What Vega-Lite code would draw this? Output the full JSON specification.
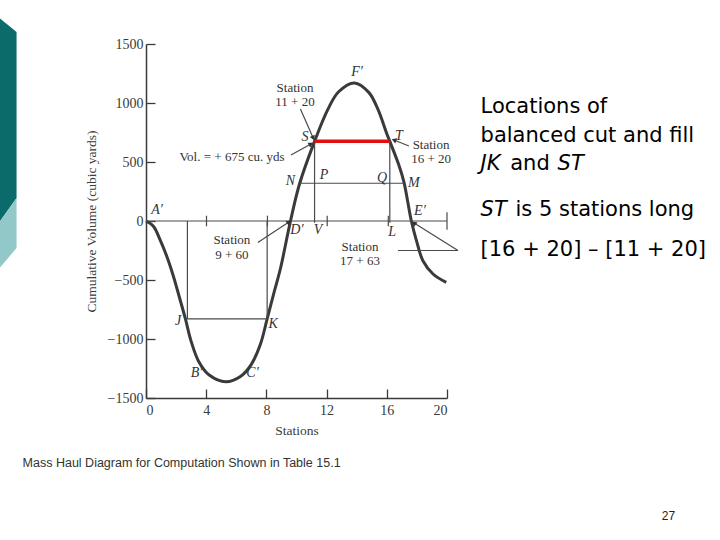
{
  "$schema": "https://vega.github.io/schema/vega-lite/v6.json",
  "width": 301,
  "height": 354,
  "autosize": {"type": "none"},
  "padding": {"left": 146, "top": 44, "right": 273, "bottom": 142},
  "background": "white",
  "config": {
    "view": {"stroke": null},
    "axis": {
      "grid": false,
      "domainColor": "#3a3a3a",
      "domainWidth": 1.5,
      "tickColor": "#3a3a3a",
      "tickWidth": 1.3,
      "tickSize": -9,
      "labelFont": "Liberation Serif",
      "labelFontSize": 14,
      "labelColor": "#3a3a3a",
      "titleFont": "Liberation Serif",
      "titleFontSize": 13.5,
      "titleFontWeight": "normal",
      "titleColor": "#3a3a3a"
    }
  },
  "datasets": {
    "curve": [
      {"x": 0, "y": 0}, {"x": 0.49, "y": -44}, {"x": 0.93, "y": -157}, {"x": 1.38, "y": -299},
      {"x": 1.82, "y": -468}, {"x": 2.26, "y": -665}, {"x": 2.62, "y": -830}, {"x": 3.0, "y": -1020},
      {"x": 3.5, "y": -1190}, {"x": 4.2, "y": -1305}, {"x": 5.3, "y": -1362}, {"x": 6.3, "y": -1315},
      {"x": 7.0, "y": -1215}, {"x": 7.6, "y": -1045}, {"x": 8.05, "y": -830}, {"x": 8.5, "y": -610},
      {"x": 8.95, "y": -394}, {"x": 9.6, "y": 0}, {"x": 10.2, "y": 314}, {"x": 11.2, "y": 675},
      {"x": 12.1, "y": 950}, {"x": 12.8, "y": 1095}, {"x": 13.85, "y": 1170}, {"x": 14.8, "y": 1090},
      {"x": 15.4, "y": 950}, {"x": 16.0, "y": 740}, {"x": 16.2, "y": 675}, {"x": 16.8, "y": 475},
      {"x": 17.14, "y": 330}, {"x": 17.63, "y": 0}, {"x": 17.98, "y": -170}, {"x": 18.4, "y": -337},
      {"x": 19.07, "y": -449}, {"x": 19.95, "y": -520}
    ],
    "segments": [
      {"x": 0, "y": 0, "x2": 20, "y2": 0},
      {"x": 2.75, "y": -830, "x2": 2.75, "y2": 0},
      {"x": 8.05, "y": -830, "x2": 8.05, "y2": 0},
      {"x": 2.62, "y": -830, "x2": 8.05, "y2": -830},
      {"x": 10.2, "y": 320, "x2": 17.14, "y2": 320},
      {"x": 11.2, "y": 675, "x2": 11.2, "y2": -15},
      {"x": 16.2, "y": 675, "x2": 16.2, "y2": -15},
      {"x": 4.02, "y": -45, "x2": 4.02, "y2": 45},
      {"x": 8.07, "y": -45, "x2": 8.07, "y2": 45},
      {"x": 12.04, "y": -45, "x2": 12.04, "y2": 45},
      {"x": 16.1, "y": -45, "x2": 16.1, "y2": 45},
      {"x": 20, "y": -75, "x2": 20, "y2": 75},
      {"x": 7.43, "y": -182, "x2": 9.5, "y2": -8},
      {"x": 10.26, "y": 949, "x2": 11.11, "y2": 703},
      {"x": 9.63, "y": 560, "x2": 10.96, "y2": 653},
      {"x": 17.47, "y": 636, "x2": 16.48, "y2": 686},
      {"x": 16.74, "y": -250, "x2": 20.73, "y2": -250},
      {"x": 20.73, "y": -250, "x2": 17.81, "y2": -17}
    ],
    "balance": [{"x": 11.2, "y": 675, "x2": 16.2, "y2": 675}],
    "stationText": [
      {"x": 9.9, "y": 1127, "label": "Station"},
      {"x": 9.9, "y": 1008, "label": "11 + 20"},
      {"x": 5.71, "y": 542, "label": "Vol. = + 675 cu. yds"},
      {"x": 18.94, "y": 644, "label": "Station"},
      {"x": 18.94, "y": 525, "label": "16 + 20"},
      {"x": 5.71, "y": -165, "label": "Station"},
      {"x": 5.71, "y": -292, "label": "9 + 60"},
      {"x": 14.22, "y": -220, "label": "Station"},
      {"x": 14.22, "y": -339, "label": "17 + 63"}
    ],
    "letters": [
      {"x": 0.73, "y": 93, "label": "A′"},
      {"x": 3.36, "y": -1284, "label": "B′"},
      {"x": 7.08, "y": -1292, "label": "C′"},
      {"x": 10.03, "y": -76, "label": "D′"},
      {"x": 18.2, "y": 85, "label": "E′"},
      {"x": 14.02, "y": 1263, "label": "F′"},
      {"x": 2.13, "y": -845, "label": "J"},
      {"x": 8.45, "y": -873, "label": "K"},
      {"x": 16.35, "y": -93, "label": "L"},
      {"x": 17.8, "y": 322, "label": "M"},
      {"x": 9.6, "y": 339, "label": "N"},
      {"x": 11.83, "y": 390, "label": "P"},
      {"x": 15.68, "y": 365, "label": "Q"},
      {"x": 10.56, "y": 708, "label": "S"},
      {"x": 16.81, "y": 720, "label": "T"},
      {"x": 11.43, "y": -76, "label": "V"}
    ],
    "noteText": [
      {"x": 22.23, "y": 966, "label": "Locations of"},
      {"x": 22.23, "y": 720, "label": "balanced cut and fill"},
      {"x": 24.2, "y": 483, "label": "and"},
      {"x": 24.55, "y": 93, "label": "is 5 stations long"},
      {"x": 22.23, "y": -246, "label": "[16 + 20] – [11 + 20]"}
    ],
    "noteItalic": [
      {"x": 22.23, "y": 483, "label": "JK"},
      {"x": 27.35, "y": 483, "label": "ST"},
      {"x": 22.23, "y": 93, "label": "ST"}
    ],
    "deco": [
      {"x": -9.73, "y": 1720, "y2": -8, "part": "dark"},
      {"x": -8.6, "y": 1602, "y2": 195, "part": "dark"},
      {"x": -9.73, "y": -8, "y2": -398, "part": "light"},
      {"x": -8.6, "y": 195, "y2": -229, "part": "light"}
    ]
  },
  "layer": [
    {
      "data": {"name": "curve"},
      "mark": {"type": "line", "color": "#3a3a3a", "strokeWidth": 3, "interpolate": "catmull-rom"},
      "encoding": {
        "x": {"field": "x", "type": "quantitative",
              "scale": {"domain": [0, 20], "nice": false, "zero": false},
              "axis": {"title": "Stations", "values": [0, 4, 8, 12, 16, 20], "format": "d", "labelPadding": 14, "titlePadding": 6}},
        "y": {"field": "y", "type": "quantitative",
              "scale": {"domain": [-1500, 1500], "nice": false},
              "axis": {"title": "Cumulative Volume (cubic yards)", "values": [-1500, -1000, -500, 0, 500, 1000, 1500], "format": "d", "labelPadding": 12, "titlePadding": 9}}
      }
    },
    {
      "data": {"name": "deco"},
      "mark": {"type": "area", "orient": "vertical"},
      "encoding": {
        "x": {"field": "x", "type": "quantitative"},
        "y": {"field": "y", "type": "quantitative"},
        "y2": {"field": "y2"},
        "color": {"field": "part", "type": "nominal", "scale": {"domain": ["dark", "light"], "range": ["#0b6b6b", "#93c8c8"]}, "legend": null}
      }
    },
    {
      "data": {"name": "segments"},
      "mark": {"type": "rule", "color": "#4a4a4a", "strokeWidth": 1.2},
      "encoding": {
        "x": {"field": "x", "type": "quantitative"},
        "y": {"field": "y", "type": "quantitative"},
        "x2": {"field": "x2"},
        "y2": {"field": "y2"}
      }
    },
    {
      "data": {"name": "balance"},
      "mark": {"type": "rule", "color": "#e01010", "strokeWidth": 3.5},
      "encoding": {
        "x": {"field": "x", "type": "quantitative"},
        "y": {"field": "y", "type": "quantitative"},
        "x2": {"field": "x2"},
        "y2": {"field": "y2"}
      }
    },
    {
      "data": {"values": [{"x": 9.5, "y": -8}]},
      "mark": {"type": "point", "shape": "triangle-right", "filled": true, "size": 30, "color": "#333", "opacity": 1, "angle": -33},
      "encoding": {"x": {"field": "x", "type": "quantitative"}, "y": {"field": "y", "type": "quantitative"}}
    },
    {
      "data": {"values": [{"x": 11.11, "y": 703}]},
      "mark": {"type": "point", "shape": "triangle-right", "filled": true, "size": 30, "color": "#333", "opacity": 1, "angle": 67},
      "encoding": {"x": {"field": "x", "type": "quantitative"}, "y": {"field": "y", "type": "quantitative"}}
    },
    {
      "data": {"values": [{"x": 10.96, "y": 653}]},
      "mark": {"type": "point", "shape": "triangle-right", "filled": true, "size": 30, "color": "#333", "opacity": 1, "angle": -28},
      "encoding": {"x": {"field": "x", "type": "quantitative"}, "y": {"field": "y", "type": "quantitative"}}
    },
    {
      "data": {"values": [{"x": 16.48, "y": 686}]},
      "mark": {"type": "point", "shape": "triangle-right", "filled": true, "size": 30, "color": "#333", "opacity": 1, "angle": -159},
      "encoding": {"x": {"field": "x", "type": "quantitative"}, "y": {"field": "y", "type": "quantitative"}}
    },
    {
      "data": {"values": [{"x": 17.81, "y": -17}]},
      "mark": {"type": "point", "shape": "triangle-right", "filled": true, "size": 30, "color": "#333", "opacity": 1, "angle": -138},
      "encoding": {"x": {"field": "x", "type": "quantitative"}, "y": {"field": "y", "type": "quantitative"}}
    },
    {
      "data": {"name": "stationText"},
      "mark": {"type": "text", "font": "Liberation Serif", "fontSize": 13, "color": "#333", "align": "center", "baseline": "middle"},
      "encoding": {
        "x": {"field": "x", "type": "quantitative"},
        "y": {"field": "y", "type": "quantitative"},
        "text": {"field": "label"}
      }
    },
    {
      "data": {"name": "letters"},
      "mark": {"type": "text", "font": "Liberation Serif", "fontStyle": "italic", "fontSize": 14, "color": "#333", "align": "center", "baseline": "middle"},
      "encoding": {
        "x": {"field": "x", "type": "quantitative"},
        "y": {"field": "y", "type": "quantitative"},
        "text": {"field": "label"}
      }
    },
    {
      "data": {"name": "noteText"},
      "mark": {"type": "text", "font": "DejaVu Sans", "fontSize": 21, "color": "#000", "align": "left", "baseline": "middle"},
      "encoding": {
        "x": {"field": "x", "type": "quantitative"},
        "y": {"field": "y", "type": "quantitative"},
        "text": {"field": "label"}
      }
    },
    {
      "data": {"name": "noteItalic"},
      "mark": {"type": "text", "font": "DejaVu Sans", "fontStyle": "italic", "fontSize": 21, "color": "#000", "align": "left", "baseline": "middle"},
      "encoding": {
        "x": {"field": "x", "type": "quantitative"},
        "y": {"field": "y", "type": "quantitative"},
        "text": {"field": "label"}
      }
    },
    {
      "data": {"values": [{"x": -8.2, "y": -2051, "label": "Mass Haul Diagram for Computation Shown in Table 15.1"}]},
      "mark": {"type": "text", "font": "Liberation Sans", "fontSize": 12.5, "color": "#333", "align": "left", "baseline": "middle"},
      "encoding": {
        "x": {"field": "x", "type": "quantitative"},
        "y": {"field": "y", "type": "quantitative"},
        "text": {"field": "label"}
      }
    },
    {
      "data": {"values": [{"x": 34.72, "y": -2500, "label": "27"}]},
      "mark": {"type": "text", "font": "Liberation Sans", "fontSize": 12, "color": "#222", "align": "center", "baseline": "middle"},
      "encoding": {
        "x": {"field": "x", "type": "quantitative"},
        "y": {"field": "y", "type": "quantitative"},
        "text": {"field": "label"}
      }
    }
  ]
}
